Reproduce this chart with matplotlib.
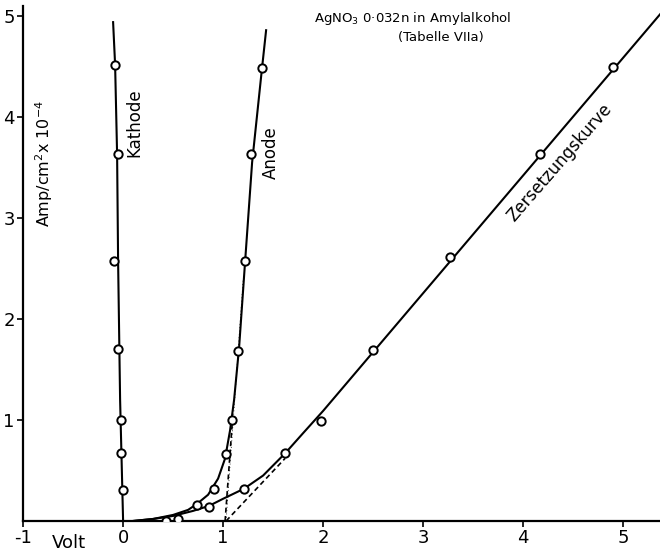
import matplotlib.pyplot as plt

plt.rcParams['font.family'] = ['DejaVu Sans']

# measured points (Volt, Amp/cm2 x 10^-4)
kath_x = [-0.08, -0.05, -0.09, -0.05, -0.02, -0.02, 0.0]
kath_y = [4.52, 3.63, 2.57, 1.70, 1.00, 0.67, 0.31]
anode_x = [0.43, 0.74, 0.91, 1.03, 1.09, 1.15, 1.22, 1.28, 1.39]
anode_y = [0.0, 0.16, 0.32, 0.66, 1.00, 1.68, 2.57, 3.63, 4.49]
zers_x = [0.55, 0.86, 1.21, 1.62, 1.98, 2.50, 3.27, 4.17, 4.90]
zers_y = [0.02, 0.14, 0.32, 0.67, 0.99, 1.69, 2.61, 3.63, 4.50]

# drawn curves
kath_cx = [-0.10, -0.08, -0.06, -0.05, -0.03, -0.01, 0.0]
kath_cy = [4.94, 4.52, 3.63, 2.57, 1.20, 0.40, 0.0]
anode_cx = [0.10, 0.30, 0.50, 0.65, 0.74, 0.85, 0.95, 1.02, 1.07, 1.11, 1.16, 1.22, 1.29, 1.38, 1.43]
anode_cy = [0.0, 0.02, 0.06, 0.11, 0.17, 0.26, 0.42, 0.62, 0.90, 1.20, 1.72, 2.57, 3.55, 4.40, 4.86]
zers_cx = [0.10, 0.30, 0.50, 0.70, 0.86, 1.00, 1.21, 1.40, 1.62, 1.80, 2.00, 5.38]
zers_cy = [0.0, 0.02, 0.05, 0.10, 0.15, 0.22, 0.32, 0.45, 0.67, 0.87, 1.09, 5.03]

# construction lines
tan_a_x = [1.02, 1.09]
tan_a_y = [0.0, 0.95]
tan_a2_x = [1.03, 1.20]
tan_a2_y = [0.0, 2.38]
tan_z_x = [1.03, 1.62]
tan_z_y = [0.0, 0.62]

fig = plt.figure(figsize=(6.6, 5.54), dpi=100)
ax = fig.add_axes([0.035, 0.0596, 0.9667, 0.9296])
ax.set_xlim(-1, 5.38)
ax.set_ylim(0, 5.1)

for s in ['top', 'right']:
    ax.spines[s].set_visible(False)
for s in ['left', 'bottom']:
    ax.spines[s].set_linewidth(1.6)

ax.set_xticks([-1, 0, 1, 2, 3, 4, 5])
ax.set_xticklabels(['-1', '0', '1', '2', '3', '4', '5'])
ax.set_yticks([1, 2, 3, 4, 5])
ax.tick_params(direction='out', length=4, width=1.2, labelsize=13, pad=2)

line_kw = dict(color='black', lw=1.5)
mark_kw = dict(ls='none', marker='o', ms=6, mfc='white', mec='black', mew=1.4, zorder=5)

ax.plot(kath_cx, kath_cy, **line_kw)
ax.plot(anode_cx, anode_cy, **line_kw)
ax.plot(zers_cx, zers_cy, **line_kw)
ax.plot(tan_a_x, tan_a_y, color='black', lw=1.2, ls=(0, (3, 2)))
ax.plot(tan_z_x, tan_z_y, color='black', lw=1.2, ls=(0, (3, 2)))
ax.plot(tan_a2_x, tan_a2_y, color='black', lw=0.6, ls=(0, (1, 3)))

ax.plot(kath_x, kath_y, **mark_kw)
ax.plot(anode_x, anode_y, **mark_kw)
ax.plot(zers_x, zers_y, **mark_kw)

ax.text(1.91, 4.98, 'AgNO$_3$ 0·032n in Amylalkohol', fontsize=9.5, ha='left', va='center')
ax.text(3.18, 4.79, '(Tabelle VIIa)', fontsize=9.5, ha='center', va='center')
ax.text(-0.79, 3.54, 'Amp/cm$^2$x 10$^{-4}$', fontsize=11.5, rotation=90, ha='center', va='center')
ax.text(0.11, 3.94, 'Kathode', fontsize=12, rotation=90, ha='center', va='center')
ax.text(1.48, 3.65, 'Anode', fontsize=12, rotation=90, ha='center', va='center')
ax.text(4.36, 3.55, 'Zersetzungskurve', fontsize=12, rotation=49, ha='center', va='center',
        rotation_mode='anchor')
ax.text(-0.54, -0.22, 'Volt', fontsize=13, ha='center', va='center')

fig.savefig('out.png', dpi=100)
